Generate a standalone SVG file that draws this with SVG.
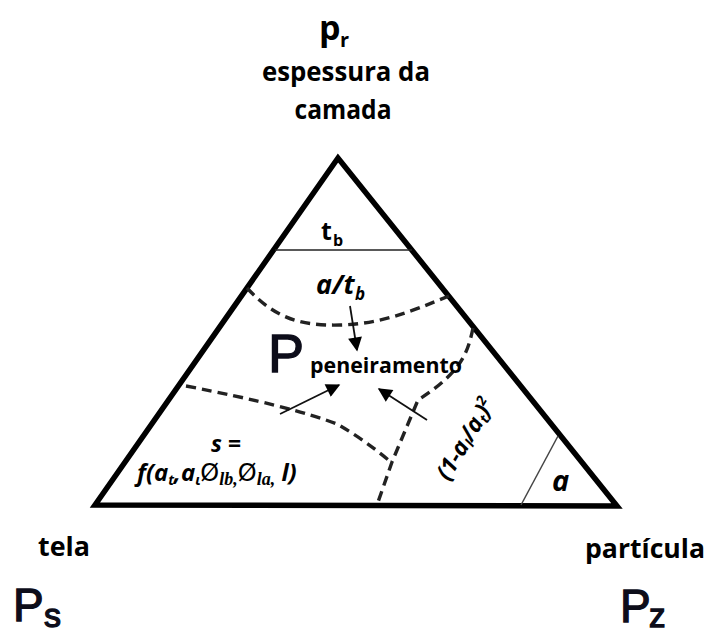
<svg xmlns="http://www.w3.org/2000/svg" width="725" height="629" viewBox="0 0 725 629">
<style>
.lbl{font-family:"Open Sans","Liberation Sans",sans-serif;font-weight:bold;fill:#000}
.it{font-family:"Open Sans","Liberation Sans",sans-serif;font-weight:bold;font-style:italic;fill:#000}
.big{font-family:"Liberation Sans",Arial,sans-serif;fill:#0d0d1a;stroke:#0d0d1a;stroke-width:1.3}
.sym{font-family:"DejaVu Sans",sans-serif;font-weight:normal;font-style:normal}
.ser{font-family:"Liberation Serif",serif;font-style:italic;font-weight:bold}
.dash{fill:none;stroke:#222;stroke-width:3.4;stroke-dasharray:10 6}
.arr{fill:none;stroke:#111;stroke-width:1.8;marker-end:url(#ah)}
.thin{fill:none;stroke:#222;stroke-width:1.6}
</style>
<defs>
<marker id="ah" viewBox="0 0 10 10" refX="9" refY="5" markerWidth="16" markerHeight="14" markerUnits="userSpaceOnUse" orient="auto">
<path d="M0,0 L10,5 L0,10 z" fill="#000"/>
</marker>
</defs>
<rect width="725" height="629" fill="#fff"/>

<g id="triangle">
<path d="M338,158 L95,505 L617,506 Z" fill="none" stroke="#000" stroke-width="5.5" stroke-linejoin="miter"/>
<line x1="275" y1="250" x2="412" y2="250" class="thin"/>
<line x1="558" y1="436" x2="521" y2="505" stroke="#444" stroke-width="1.5"/>
</g>

<g id="connectors">
<path class="dash" d="M247,288 C275,318 300,326 340,325 C380,324 410,312 449,296"/>
<path class="dash" d="M186,386 Q290,406 337,424 Q365,440 392,463"/>
<path class="dash" d="M473,328 C468,352 462,372 418,400 L392,462 L377,505"/>
<line class="arr" x1="350" y1="306" x2="357" y2="350"/>
<line class="arr" x1="280" y1="414" x2="339" y2="385"/>
<line class="arr" x1="427" y1="420" x2="379" y2="389"/>
</g>

<g id="node-pr">
<text class="lbl" x="319" y="40" font-size="34">p</text>
<text class="lbl" x="340" y="47" font-size="20">r</text>
</g>
<g id="node-espessura">
<text class="lbl" x="346" y="81" font-size="27" text-anchor="middle" textLength="168" lengthAdjust="spacingAndGlyphs">espessura da</text>
<text class="lbl" x="343" y="119" font-size="27" text-anchor="middle" textLength="97" lengthAdjust="spacingAndGlyphs">camada</text>
</g>
<g id="node-tb">
<text class="lbl" x="321" y="240" font-size="25">t</text>
<text class="lbl" x="333" y="246" font-size="16">b</text>
</g>
<g id="node-atb">
<text class="it" x="316" y="294" font-size="27">a/t</text>
<text class="it" x="355" y="300" font-size="17">b</text>
</g>
<g id="node-peneiramento">
<text class="big" x="268" y="372" font-size="54">P</text>
<text class="lbl" x="310" y="373" font-size="21" textLength="152" lengthAdjust="spacingAndGlyphs">peneiramento</text>
</g>
<g id="node-s">
<text class="it" x="226" y="452" font-size="23" text-anchor="middle">s =</text>
<text class="it" x="137" y="481" font-size="24">f(a<tspan font-size="14" dy="4">t</tspan><tspan dy="-4">,a</tspan><tspan font-size="14" dy="4">ι</tspan><tspan dy="-4" class="sym" font-size="24">Ø</tspan><tspan class="ser" font-size="18" dy="4">lb,</tspan><tspan dy="-4" class="sym" font-size="24">Ø</tspan><tspan class="ser" font-size="18" dy="4">la,</tspan><tspan dy="-4"> l)</tspan></text>
</g>
<g id="node-ratio">
<text class="it" x="472" y="443" font-size="23" text-anchor="middle" transform="rotate(-59 472 443)">(1-a<tspan font-size="14" dy="3">l</tspan><tspan dy="-3">/a</tspan><tspan font-size="14" dy="3">t</tspan><tspan dy="-3">)</tspan><tspan font-size="14" dy="-9">2</tspan></text>
</g>
<g id="node-a">
<text class="it" x="552" y="491" font-size="29">a</text>
</g>
<g id="node-tela">
<text class="lbl" x="64" y="556" font-size="27" text-anchor="middle" textLength="52" lengthAdjust="spacingAndGlyphs">tela</text>
<text class="big" x="13" y="621" font-size="46">P</text>
<text class="big" x="44" y="627" font-size="34">s</text>
</g>
<g id="node-particula">
<text class="lbl" x="645" y="558" font-size="27" text-anchor="middle" textLength="120" lengthAdjust="spacingAndGlyphs">partícula</text>
<text class="big" x="620" y="622" font-size="46">P</text>
<text class="big" x="649" y="627" font-size="33">z</text>
</g>
</svg>
